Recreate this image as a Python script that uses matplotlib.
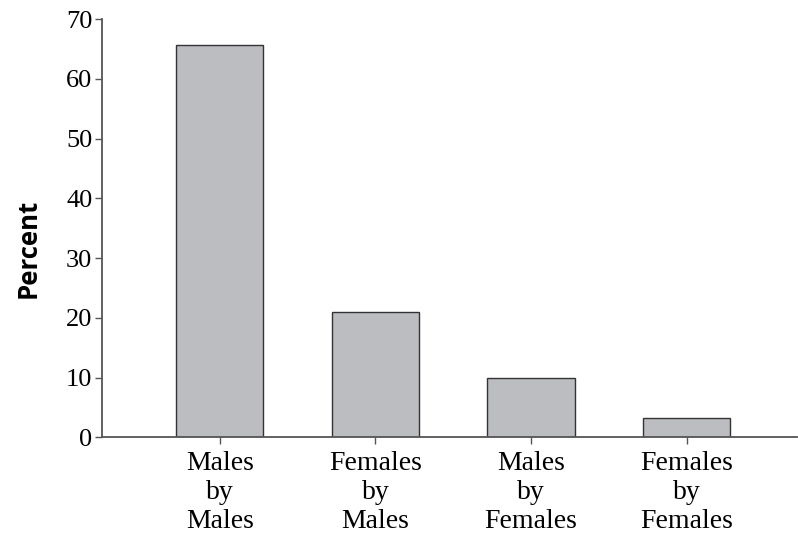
import numpy as np
import matplotlib.pyplot as plt

categories = ["Males\nby\nMales", "Females\nby\nMales", "Males\nby\nFemales", "Females\nby\nFemales"]
percent = [65.6, 20.9, 10.0, 3.2]
yticks = [0, 10, 20, 30, 40, 50, 60, 70]

fig = plt.figure(figsize=(7.98, 5.34), dpi=100)
ax = fig.add_axes([0.128, 0.181, 0.871, 0.7834])

x = np.arange(len(categories))
ax.bar(x, percent, width=0.56, color='#bcbdc1', edgecolor='#333333', linewidth=1.0, zorder=2)

ax.set_xlim(-0.756, 3.71)
ax.set_ylim(0, 70)
ax.set_yticks(yticks)
ax.set_xticks(x)
ax.set_xticklabels(categories, family='Liberation Serif', fontsize=20, linespacing=1.2)
for lab in ax.get_yticklabels():
    lab.set_family('Liberation Serif')
    lab.set_fontsize(19)

for side in ['top', 'right']:
    ax.spines[side].set_visible(False)
for side in ['left', 'bottom']:
    ax.spines[side].set_color('#555555')
    ax.spines[side].set_linewidth(1.3)
ax.tick_params(axis='y', length=5, width=1.0, color='#555555', pad=2)
ax.tick_params(axis='x', length=5, width=1.0, color='#555555', pad=5)

# y label placed in figure pixels
fig.text(28 / 798, 1 - 248 / 534, 'Percent', family='Open Sans', fontweight='bold',
         fontsize=18.5, rotation=90, ha='center', va='center')

fig.savefig('out.png', dpi=100)
